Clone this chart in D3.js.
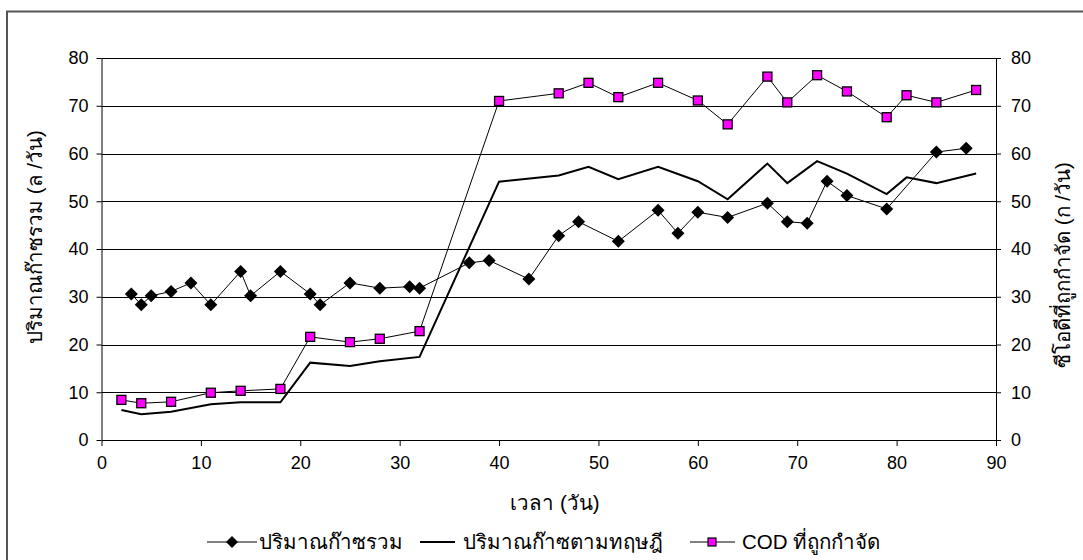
<!DOCTYPE html>
<html><head><meta charset="utf-8">
<script src="https://cdn.jsdelivr.net/npm/d3@7"></script>
<style>
body{margin:0;background:#fff}
text{font-family:"Liberation Sans",Arial,"DejaVu Sans",sans-serif;fill:#000}
</style>
</head><body>
<svg id="c" width="1083" height="560"></svg>
<script>
// ---- data ----
const gasDays   = [3,4,5,7,9,11,14,15,18,21,22,25,28,31,32,37,39,43,46,48,52,56,58,60,63,67,69,71,73,75,79,84,87];
const gasTotal  = [30.6,28.3,30.2,31.1,32.9,28.3,35.3,30.2,35.3,30.6,28.3,32.9,31.8,32.1,31.8,37.1,37.6,33.7,42.8,45.7,41.6,48.1,43.3,47.7,46.6,49.6,45.7,45.4,54.2,51.2,48.4,60.3,61.1];
const codDays   = [2,4,7,11,14,18,21,25,28,32,40,46,49,52,56,60,63,67,69,72,75,79,81,84,88];
const gasTheory = [6.3,5.4,5.9,7.5,7.9,7.9,16.2,15.5,16.5,17.4,54.1,55.4,57.2,54.6,57.2,54.2,50.4,57.9,53.8,58.4,55.8,51.5,55.0,53.8,55.8];
const codRemoved= [8.4,7.7,8.0,9.9,10.3,10.7,21.6,20.5,21.2,22.8,71.0,72.6,74.8,71.8,74.8,71.1,66.1,76.1,70.7,76.4,73.0,67.6,72.2,70.7,73.3];
const xTicks = [0,10,20,30,40,50,60,70,80,90];
const yTicks = [0,10,20,30,40,50,60,70,80];
const seriesNames = ["ปริมาณก๊าซรวม","ปริมาณก๊าซตามทฤษฎี","COD ที่ถูกกำจัด"];
const xTitle = "เวลา (วัน)";
const yTitleLeft = "ปริมาณก๊าซรวม (ล /วัน)";
const yTitleRight = "ซีโอดีที่ถูกกำจัด (ก /วัน)";

// ---- chart ----
const svg = d3.select("#c");
const L = 101.5, R = 996, T = 58, B = 440;
const x = d3.scaleLinear().domain([0,90]).range([L,R]);
const yL = d3.scaleLinear().domain([0,80]).range([B,T]);
const yR = d3.scaleLinear().domain([0,80]).range([B,T]);

// outer frame (extends beyond canvas, as in reference crop)
svg.append("rect").attr("x",7).attr("y",11.5).attr("width",1100).attr("height",600)
  .attr("fill","none").attr("stroke","#555").attr("stroke-width",2);

// gridlines
svg.append("g").selectAll("line").data(yTicks.filter(d=>d>0)).join("line")
  .attr("x1",L).attr("x2",R)
  .attr("y1",d=>Math.round(yL(d))+0.5).attr("y2",d=>Math.round(yL(d))+0.5)
  .attr("stroke","#000").attr("stroke-width",1);

const fs = 18, tfs = 20.5;
// left axis
const gl = svg.append("g").attr("transform",`translate(${L},0)`)
  .call(d3.axisLeft(yL).tickValues(yTicks).tickSize(5).tickSizeOuter(0).tickPadding(8));
// right axis
const gr = svg.append("g").attr("transform",`translate(${R},0)`)
  .call(d3.axisRight(yR).tickValues(yTicks).tickSize(5).tickSizeOuter(0).tickPadding(10));
// bottom axis
const gb = svg.append("g").attr("transform",`translate(0,${B})`)
  .call(d3.axisBottom(x).tickValues(xTicks).tickSize(6).tickSizeOuter(0).tickPadding(10));
[gl,gr,gb].forEach(g=>{
  g.selectAll("path,line").attr("stroke","#000").attr("stroke-width",1);
  g.selectAll("text").style("font-size",fs+"px").attr("fill","#000");
});

// theory line
svg.append("path").datum(codDays.map((d,i)=>[d,gasTheory[i]]))
  .attr("fill","none").attr("stroke","#000").attr("stroke-width",2)
  .attr("d",d3.line().x(d=>x(d[0])).y(d=>yL(d[1])));
// total gas line
svg.append("path").datum(gasDays.map((d,i)=>[d,gasTotal[i]]))
  .attr("fill","none").attr("stroke","#000").attr("stroke-width",1)
  .attr("d",d3.line().x(d=>x(d[0])).y(d=>yL(d[1])));
// COD line
svg.append("path").datum(codDays.map((d,i)=>[d,codRemoved[i]]))
  .attr("fill","none").attr("stroke","#000").attr("stroke-width",1)
  .attr("d",d3.line().x(d=>x(d[0])).y(d=>yR(d[1])));

const diamond = s => `M0,${-s}L${s},0L0,${s}L${-s},0Z`;
svg.append("g").selectAll("path").data(gasDays.map((d,i)=>[d,gasTotal[i]])).join("path")
  .attr("transform",d=>`translate(${x(d[0])},${yL(d[1])})`)
  .attr("d",diamond(6.5)).attr("fill","#000");
svg.append("g").selectAll("rect").data(codDays.map((d,i)=>[d,codRemoved[i]])).join("rect")
  .attr("x",d=>x(d[0])-4.5).attr("y",d=>yR(d[1])-4.5).attr("width",9).attr("height",9)
  .attr("fill","#ff00ff").attr("stroke","#000").attr("stroke-width",1.3);

// titles
svg.append("text").attr("x",555).attr("y",510).attr("text-anchor","middle")
  .style("font-size",tfs+"px").text(xTitle);
svg.append("text").attr("transform","translate(42,237) rotate(-90)").attr("text-anchor","middle")
  .style("font-size",tfs+"px").text(yTitleLeft);
svg.append("text").attr("transform","translate(1070,265) rotate(-90)").attr("text-anchor","middle")
  .style("font-size",tfs+"px").text(yTitleRight);

// legend
const ly = 542;
const lg = svg.append("g");
lg.append("line").attr("x1",207).attr("x2",257).attr("y1",ly).attr("y2",ly).attr("stroke","#000");
lg.append("path").attr("transform",`translate(232,${ly})`).attr("d",diamond(6)).attr("fill","#000");
lg.append("text").attr("x",259).attr("y",ly+7).style("font-size",tfs+"px").text(seriesNames[0]);
lg.append("line").attr("x1",420).attr("x2",455).attr("y1",ly).attr("y2",ly).attr("stroke","#000").attr("stroke-width",2);
lg.append("text").attr("x",463).attr("y",ly+7).style("font-size",tfs+"px").text(seriesNames[1]);
lg.append("line").attr("x1",690).attr("x2",735).attr("y1",ly).attr("y2",ly).attr("stroke","#000");
lg.append("rect").attr("x",708).attr("y",ly-4).attr("width",8).attr("height",8)
  .attr("fill","#ff00ff").attr("stroke","#000").attr("stroke-width",1.2);
lg.append("text").attr("x",742).attr("y",ly+7).style("font-size",tfs+"px").text(seriesNames[2]);
</script>
</body></html>
